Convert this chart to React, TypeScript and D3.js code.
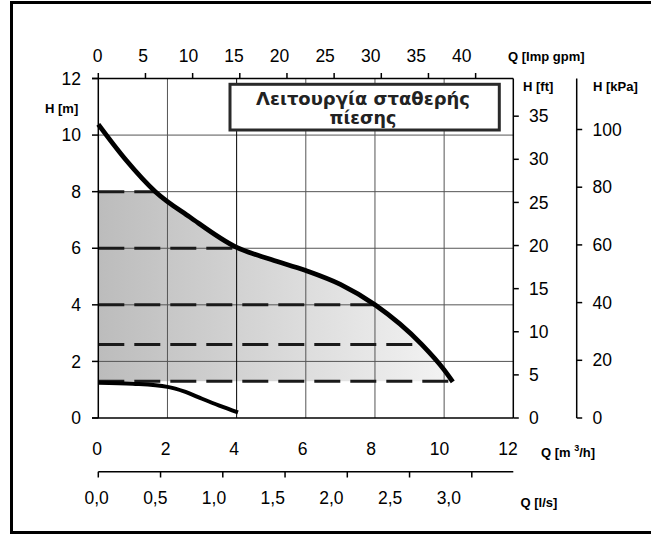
import React from "react";
import * as d3 from "d3";

// Pump curve (m³/h, m)
const upperQ = [0, 0.8, 1.65, 2.65, 4, 5, 6, 7, 8, 9.35, 10, 10.25];
const upperH = [10.38, 9.12, 8.0, 7.1, 6.03, 5.6, 5.21, 4.72, 4.0, 2.6, 1.7, 1.28];
const lowerQ = [0, 1, 2, 2.5, 3, 3.5, 4.04];
const lowerH = [1.25, 1.21, 1.1, 0.93, 0.68, 0.44, 0.2];
// constant pressure levels (m) and where they end (m³/h)
const dashLevels = [8, 6, 4, 2.6, 1.3];
const dashEnds = [1.65, 4.05, 8.0, 9.35, 10.25];
const fillBottom = 1.3;
const fillEnd = 10.25;

const qTicks = [0, 2, 4, 6, 8, 10, 12];
const hTicks = [0, 2, 4, 6, 8, 10, 12];
const gridQ = [2, 4, 6, 8, 10];
const gridH = [2, 4, 6, 8, 10];
const gpmTicks = [0, 5, 10, 15, 20, 25, 30, 35, 40];
const lsTicks = [0, 0.5, 1.0, 1.5, 2.0, 2.5, 3.0];
const ftTicks = [0, 5, 10, 15, 20, 25, 30, 35];
const kpaTicks = [0, 20, 40, 60, 80, 100];
const title = ["Λειτουργία σταθερής", "πίεσης"];

const GPM = 0.272765; // m³/h per Imp gpm
const LS = 3.6; // m³/h per l/s
const FT = 0.3048; // m per ft
const KPA = 1 / 9.80665; // m per kPa

const X0 = 98.3, X1 = 513.3, Y0 = 418, Y1 = 78.5;
const x = d3.scaleLinear().domain([0, 12]).range([X0, X1]);
const y = d3.scaleLinear().domain([0, 12]).range([Y0, Y1]);
const xg = d3.scaleLinear().domain([0, 12 / GPM]).range([X0, X1]);
const xl = d3.scaleLinear().domain([0, 12 / LS]).range([X0, X1]);
const yf = d3.scaleLinear().domain([0, 12 / FT]).range([Y0, Y1]);
const yk = d3.scaleLinear().domain([0, 12 / KPA]).range([Y0, Y1]);
// the original's tick labels sit on slightly narrower spacing than the ticks
const xLab = d3.scaleLinear().domain([0, 12]).range([97, 508]);
const xgLab = d3.scaleLinear().domain([0, 40]).range([97.5, 461.7]);
const xlLab = d3.scaleLinear().domain([0, 3]).range([96.6, 448.8]);

const FONT = "'Liberation Sans', Arial, sans-serif";

export default function App() {
  const up = upperQ.map((q, i) => [q, upperH[i]] as [number, number]);
  const lo = lowerQ.map((q, i) => [q, lowerH[i]] as [number, number]);
  const curve = d3.curveMonotoneX;
  const line = d3.line<[number, number]>().x(d => x(d[0])).y(d => y(d[1])).curve(curve);
  const area = d3
    .area<[number, number]>()
    .x(d => x(d[0]))
    .y0(y(0))
    .y1(d => y(d[1]))
    .curve(curve);
  const KX = 576.7; // kPa axis x
  const tickFs = 17.5;
  const labFs = 13;
  return (
    <svg
      width={651}
      height={535}
      style={{ position: "absolute", left: 0, top: 0, display: "block", background: "#fff" }}
    >
      <defs>
        <linearGradient id="g" gradientUnits="userSpaceOnUse" x1={x(0)} x2={x(fillEnd)} y1={0} y2={0}>
          <stop offset="0" stopColor="#bcbcbc" />
          <stop offset="1" stopColor="#f4f4f4" />
        </linearGradient>
        <clipPath id="c">
          <path d={area(up) || ""} />
        </clipPath>
      </defs>
      {/* outer frame */}
      <path d="M700 2.5 H11.5 V532.5 H700" fill="none" stroke="#000" strokeWidth={3} />

      {/* fill */}
      <rect
        x={x(0)}
        y={y(8)}
        width={x(fillEnd) - x(0)}
        height={y(fillBottom) - y(8)}
        fill="url(#g)"
        clipPath="url(#c)"
      />

      {/* grid */}
      {gridH.map(h => (
        <line key={"gh" + h} x1={X0} x2={X1} y1={y(h)} y2={y(h)} stroke="#555" strokeWidth={1} />
      ))}
      {gridQ.map(q => (
        <line
          key={"gq" + q}
          x1={x(q)}
          x2={x(q)}
          y1={Y0}
          y2={Y1}
          stroke={q === 4 ? "#000" : "#555"}
          strokeWidth={1}
        />
      ))}

      {/* dashed constant-pressure lines */}
      {dashLevels.map((h, i) => (
        <line
          key={"d" + h}
          x1={x(0)}
          x2={x(dashEnds[i])}
          y1={y(h)}
          y2={y(h)}
          stroke="#1a1a1a"
          strokeWidth={3}
          strokeDasharray="26 10"
        />
      ))}

      {/* curves */}
      <path d={line(up) || ""} fill="none" stroke="#000" strokeWidth={4.8} />
      <path d={line(lo) || ""} fill="none" stroke="#000" strokeWidth={4} />

      {/* plot frame: left, bottom, top, right */}
      <line x1={X0} x2={X0} y1={Y1} y2={Y0} stroke="#000" strokeWidth={1.5} />
      <line x1={92} x2={X1} y1={Y0} y2={Y0} stroke="#000" strokeWidth={1.5} />
      <line x1={92} x2={X1} y1={Y1} y2={Y1} stroke="#000" strokeWidth={1.5} />
      <line x1={X1} x2={X1} y1={Y1} y2={Y0} stroke="#000" strokeWidth={1.5} />

      {/* left axis */}
      {hTicks.map(h => (
        <g key={"lh" + h}>
          <line x1={92} x2={X0} y1={y(h)} y2={y(h)} stroke="#000" strokeWidth={1.5} />
          <text x={81} y={y(h)} dy="0.35em" textAnchor="end" fontFamily={FONT} fontSize={tickFs}>
            {h}
          </text>
        </g>
      ))}
      <text x={45} y={113} fontFamily={FONT} fontSize={labFs} fontWeight="bold">
        H [m]
      </text>

      {/* bottom Q m3/h labels */}
      {qTicks.map(q => (
        <text key={"bq" + q} x={xLab(q)} y={455} textAnchor="middle" fontFamily={FONT} fontSize={tickFs}>
          {q}
        </text>
      ))}
      <text x={541} y={456.5} fontFamily={FONT} fontSize={labFs} fontWeight="bold">
        Q [m <tspan fontSize={9} dy={-6}>3</tspan>
        <tspan dy={6}>/h]</tspan>
      </text>

      {/* l/s axis */}
      <line x1={X0} x2={X1} y1={471.7} y2={471.7} stroke="#000" strokeWidth={1.5} />
      {lsTicks.map(v => (
        <g key={"ls" + v}>
          <line x1={xl(v)} x2={xl(v)} y1={471.7} y2={477.5} stroke="#000" strokeWidth={1.5} />
          <text x={xlLab(v)} y={504} textAnchor="middle" fontFamily={FONT} fontSize={tickFs}>
            {v.toFixed(1).replace(".", ",")}
          </text>
        </g>
      ))}
      <text x={520.5} y={506.5} fontFamily={FONT} fontSize={labFs} fontWeight="bold">
        Q [l/s]
      </text>

      {/* top gpm axis */}
      {gpmTicks.map(v => (
        <g key={"gp" + v}>
          <line x1={xg(v)} x2={xg(v)} y1={Y1} y2={73} stroke="#000" strokeWidth={1.5} />
          <text x={xgLab(v)} y={62} textAnchor="middle" fontFamily={FONT} fontSize={tickFs}>
            {v}
          </text>
        </g>
      ))}
      <text x={508} y={61} fontFamily={FONT} fontSize={labFs} fontWeight="bold">
        Q [Imp gpm]
      </text>

      {/* ft axis */}
      {ftTicks.map(v => (
        <g key={"ft" + v}>
          <line x1={X1} x2={X1 + 5.5} y1={yf(v)} y2={yf(v)} stroke="#000" strokeWidth={1.5} />
          <text x={529} y={yf(v)} dy="0.35em" fontFamily={FONT} fontSize={tickFs}>
            {v}
          </text>
        </g>
      ))}
      <text x={523} y={90.5} fontFamily={FONT} fontSize={labFs} fontWeight="bold">
        H [ft]
      </text>

      {/* kPa axis */}
      <line x1={KX} x2={KX} y1={Y1} y2={Y0} stroke="#000" strokeWidth={1.5} />
      {kpaTicks.map(v => (
        <g key={"kp" + v}>
          <line x1={KX} x2={KX + 5.5} y1={yk(v)} y2={yk(v)} stroke="#000" strokeWidth={1.5} />
          <text x={592.5} y={yk(v)} dy="0.35em" fontFamily={FONT} fontSize={tickFs}>
            {v}
          </text>
        </g>
      ))}
      <text x={593} y={90.5} fontFamily={FONT} fontSize={labFs} fontWeight="bold">
        H [kPa]
      </text>

      {/* title box */}
      <rect x={230} y={84.3} width={269.3} height={45.7} fill="#fff" stroke="#2a2a2a" strokeWidth={3} />
      <text
        x={363}
        y={105}
        textAnchor="middle"
        fontFamily="'DejaVu Sans', sans-serif"
        fontWeight="bold"
        fontSize={17.5}
        fill="#222"
        textLength={214}
        lengthAdjust="spacingAndGlyphs"
      >
        {title[0]}
      </text>
      <text
        x={363}
        y={124}
        textAnchor="middle"
        fontFamily="'DejaVu Sans', sans-serif"
        fontWeight="bold"
        fontSize={17.5}
        fill="#222"
      >
        {title[1]}
      </text>
    </svg>
  );
}
